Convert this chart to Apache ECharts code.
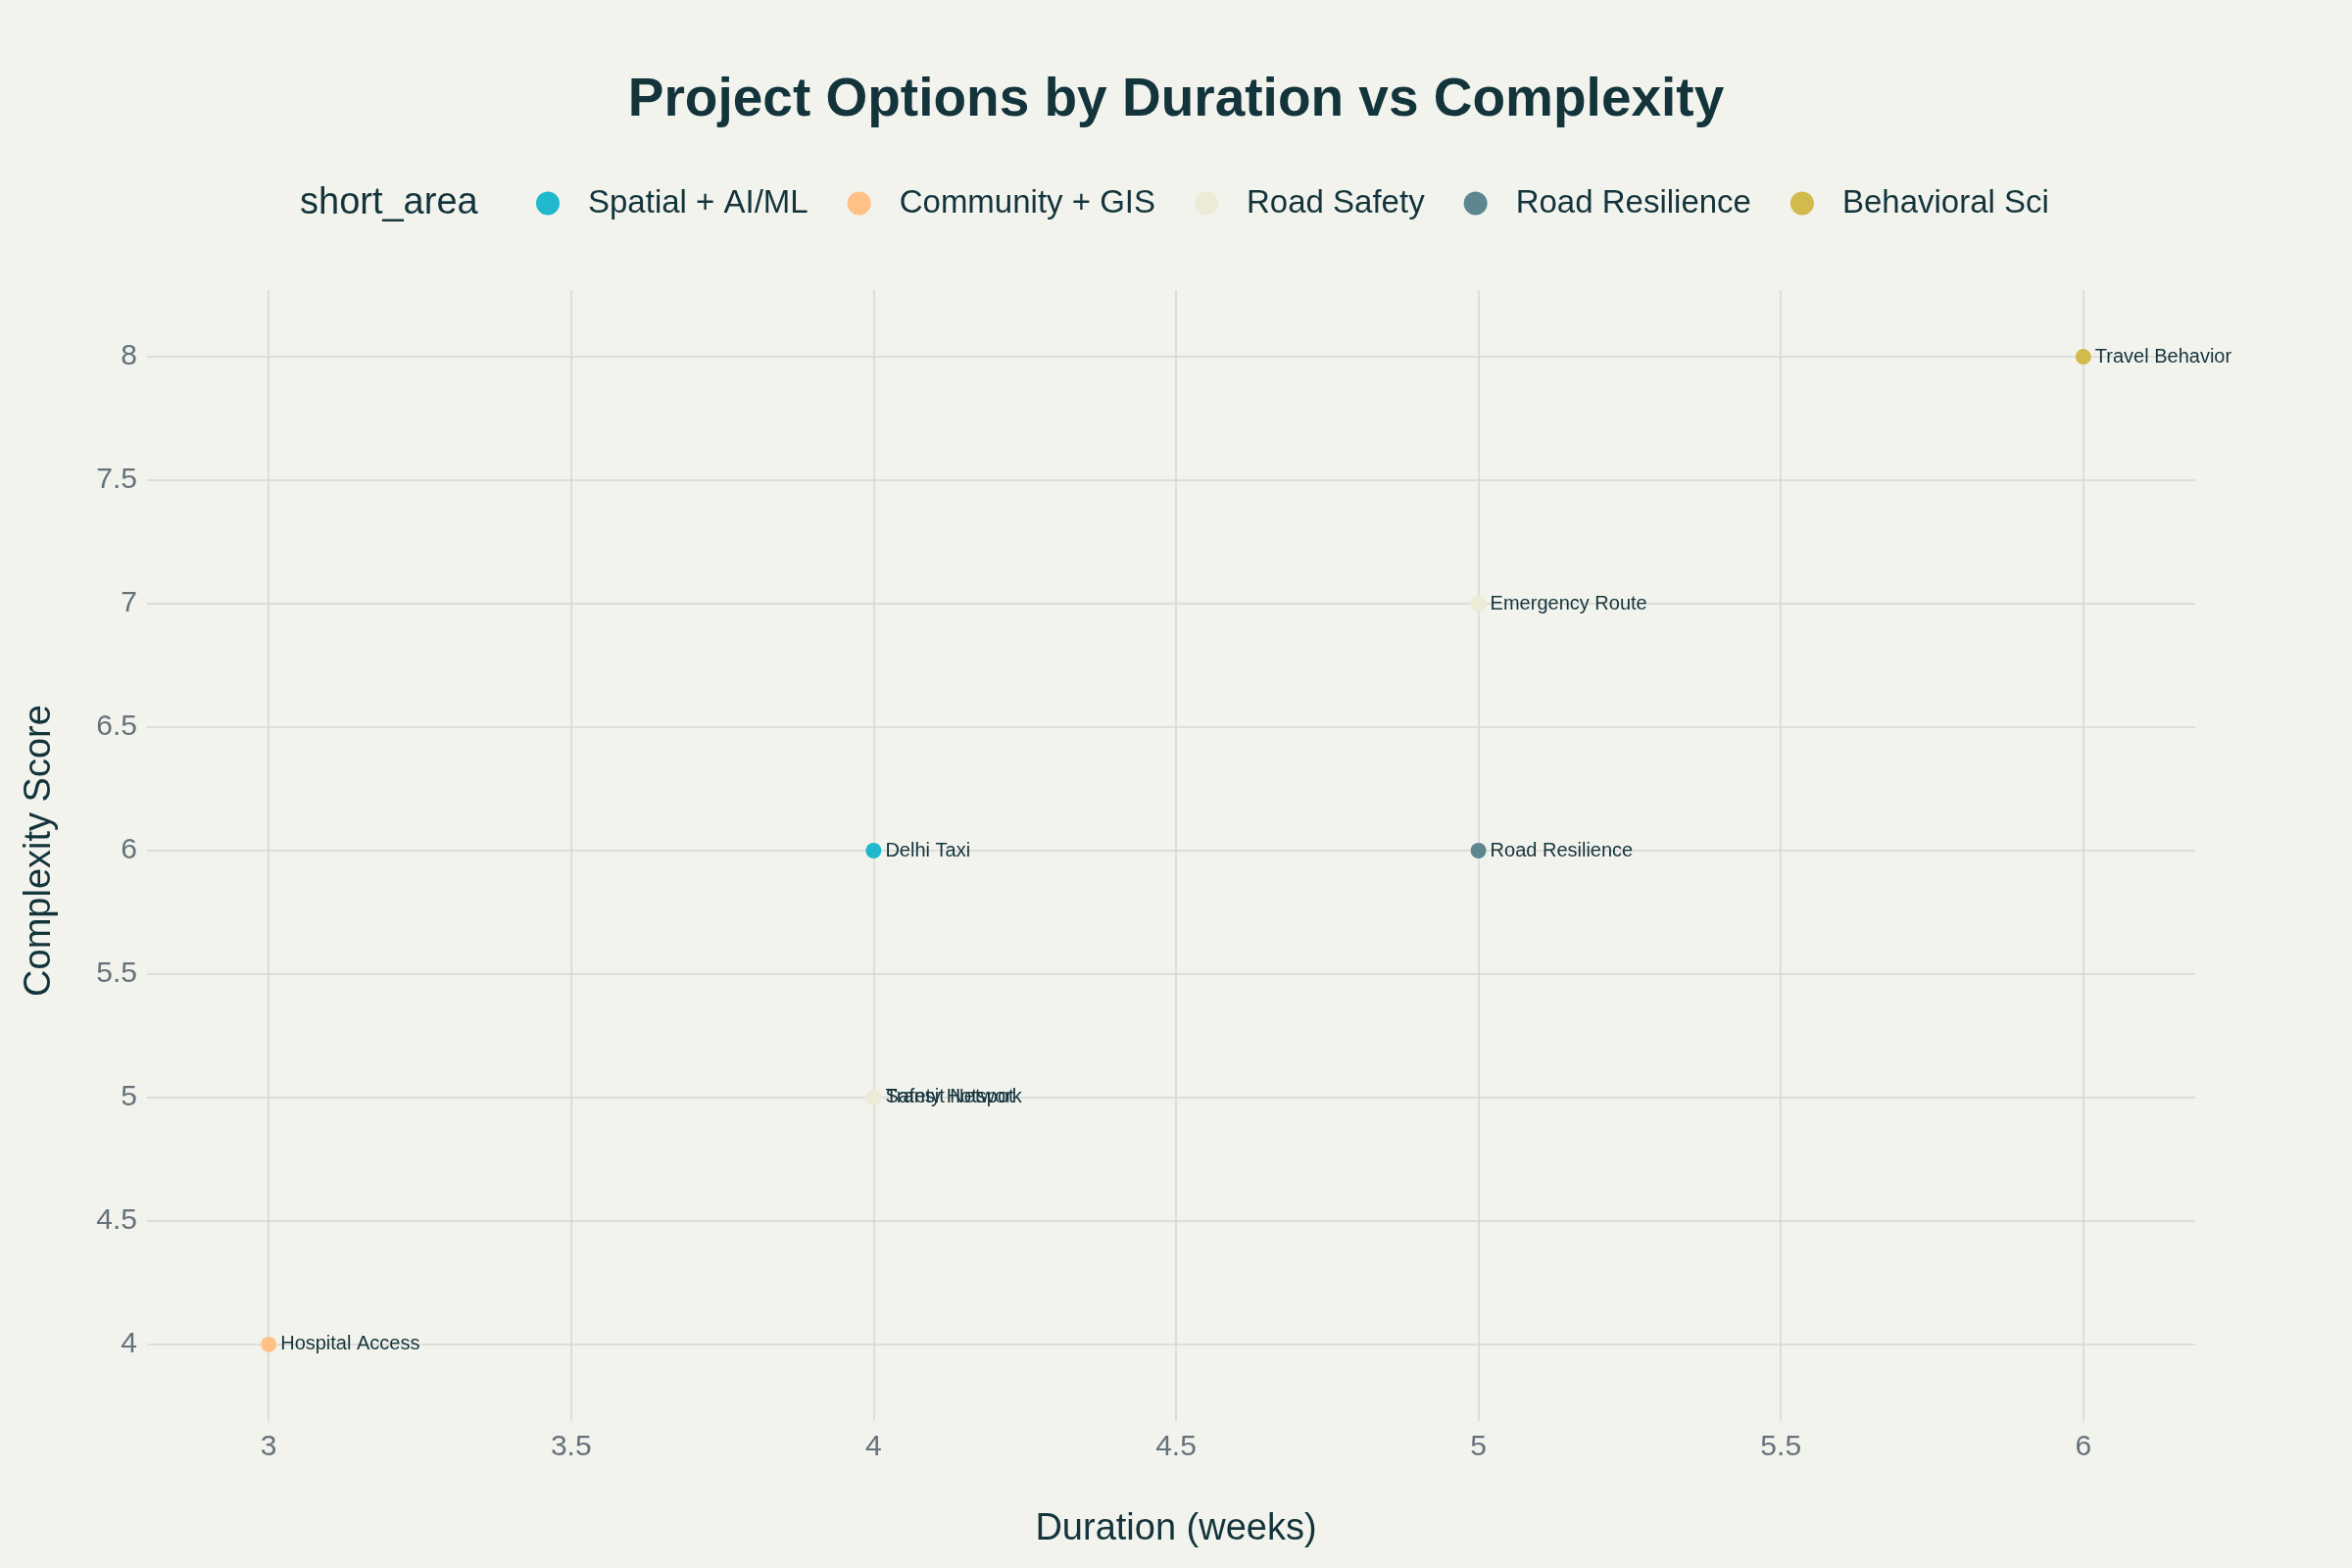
<!DOCTYPE html>
<html>
<head>
<meta charset="utf-8">
<script src="https://cdn.jsdelivr.net/npm/echarts@6/dist/echarts.min.js"></script>
<style>
html,body{margin:0;padding:0;background:#F3F3EE;}
#chart{width:2400px;height:1600px;}
</style>
</head>
<body>
<div id="chart"></div>
<script>
// ---- data ----
const areas = ['Spatial + AI/ML', 'Community + GIS', 'Road Safety', 'Road Resilience', 'Behavioral Sci'];
const areaColors = ['#1FB8CD', '#FFC185', '#ECEBD5', '#5D878F', '#D2BA4C'];
const spatialPoints = [[4, 6, 'Delhi Taxi']];
const communityPoints = [[3, 4, 'Hospital Access']];
const roadSafetyPoints = [[5, 7, 'Emergency Route'], [4, 5, 'Safety Hotspot'], [4, 5, 'Transit Network']];
const resiliencePoints = [[5, 6, 'Road Resilience']];
const behavioralPoints = [[6, 8, 'Travel Behavior']];
const xTicks = [3, 3.5, 4, 4.5, 5, 5.5, 6];
const yTicks = [4, 4.5, 5, 5.5, 6, 6.5, 7, 7.5, 8];

const seriesData = [spatialPoints, communityPoints, roadSafetyPoints, resiliencePoints, behavioralPoints];

const FONT = 'Liberation Sans, Arial, sans-serif';
const DARK = '#13343B';
const GRAY = '#65727A';
const GRID = '#D6D6D2';

const chart = echarts.init(document.getElementById('chart'), null, {renderer: 'canvas'});

const option = {
  backgroundColor: '#F3F3EE',
  animation: false,
  title: {
    text: 'Project Options by Duration vs Complexity',
    left: 'center',
    top: 70,
    textStyle: {fontFamily: FONT, fontSize: 55, fontWeight: 'bold', color: DARK}
  },
  graphic: [{
    type: 'text',
    left: 306,
    top: 189,
    style: {text: 'short_area', font: '38px ' + FONT, fill: DARK}
  }],
  legend: {
    left: 542,
    top: 186,
    itemWidth: 24,
    itemHeight: 24,
    itemGap: 40,
    icon: 'circle',
    data: areas,
    textStyle: {fontFamily: FONT, fontSize: 33, color: DARK, padding: [0, 0, 0, 24]}
  },
  grid: {left: 160, right: 160, top: 296, bottom: 160, containLabel: false},
  xAxis: {
    type: 'value',
    min: 2.815,
    max: 6.185,
    minInterval: 0.5,
    maxInterval: 0.5,
    name: 'Duration (weeks)',
    nameLocation: 'middle',
    nameGap: 102,
    nameTextStyle: {fontFamily: FONT, fontSize: 38, color: DARK},
    axisLine: {show: false},
    axisTick: {show: true, length: 10, customValues: xTicks, lineStyle: {color: GRID, width: 1.5}},
    axisLabel: {customValues: xTicks, margin: 22, fontFamily: FONT, fontSize: 30, color: GRAY},
    splitLine: {show: true, lineStyle: {color: GRID, width: 1.5}}
  },
  yAxis: {
    type: 'value',
    min: 3.73,
    max: 8.27,
    minInterval: 0.5,
    maxInterval: 0.5,
    name: 'Complexity Score',
    nameLocation: 'middle',
    nameGap: 100,
    nameTextStyle: {fontFamily: FONT, fontSize: 38, color: DARK},
    axisLine: {show: false},
    axisTick: {show: true, length: 10, customValues: yTicks, lineStyle: {color: GRID, width: 1.5}},
    axisLabel: {customValues: yTicks, margin: 20, fontFamily: FONT, fontSize: 30, color: GRAY},
    splitLine: {show: true, lineStyle: {color: GRID, width: 1.5}}
  },
  series: areas.map((name, i) => ({
    name: name,
    type: 'scatter',
    symbol: 'circle',
    symbolSize: 16,
    itemStyle: {color: areaColors[i], opacity: 1},
    data: seriesData[i].map(p => ({value: [p[0], p[1]], name: p[2]})),
    label: {
      show: true,
      position: 'right',
      distance: 4,
      formatter: p => p.name,
      fontFamily: FONT,
      fontSize: 20,
      color: DARK
    },
    labelLayout: {hideOverlap: false}
  }))
};
chart.setOption(option);
</script>
</body>
</html>
